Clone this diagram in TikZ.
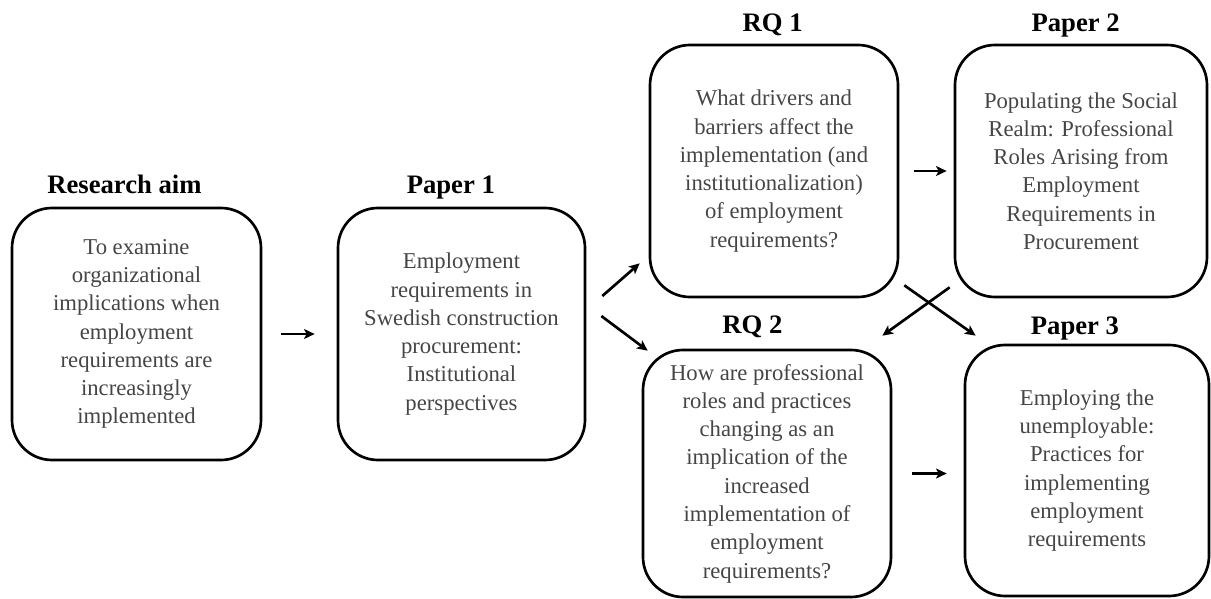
\documentclass[tikz,border=0pt]{standalone}
\usepackage{fontspec}
\setmainfont{Liberation Serif}
\usetikzlibrary{arrows.meta}
\definecolor{txtgray}{gray}{0.27}
\tikzset{
  box/.style={draw, line width=2pt, rounded corners=30pt, align=center, inner sep=0pt,
    text=txtgray, font=\fontsize{17}{21.2}\selectfont},
  lab/.style={anchor=base, font=\fontsize{20}{24}\selectfont\bfseries},
  arr/.style={-{Stealth[length=8pt,width=7.5pt,inset=2pt]}, line width=2pt}
}
\begin{document}
\begin{tikzpicture}[x=0.75pt,y=-0.75pt]
  \useasboundingbox (0,0) rectangle (1211,599);
  % boxes
  \node[box, minimum width=186.75pt, minimum height=189pt] (aim) at (136.5,334)
    {To examine\\organizational\\implications when\\employment\\requirements are\\increasingly\\implemented};
  \node[box, minimum width=185.25pt, minimum height=189pt] (p1) at (461.5,334)
    {Employment\\requirements in\\Swedish construction\\procurement:\\Institutional\\perspectives};
  \node[box, minimum width=186pt, minimum height=189pt] (rq1) at (774,171)
    {What drivers and\\barriers affect the\\implementation (and\\institutionalization)\\of employment\\requirements?};
  \node[box, minimum width=189pt, minimum height=189pt] (p2) at (1081,171)
    {Populating the Social\\Realm: Professional\\Roles Arising from\\Employment\\Requirements in\\Procurement};
  \node[box, minimum width=186pt, minimum height=185.25pt] (rq2) at (767,473.5)
    {How are professional\\roles and practices\\changing as an\\implication of the\\increased\\implementation of\\employment\\requirements?};
  \node[box, minimum width=183pt, minimum height=188.25pt] (p3) at (1087,470.5)
    {Employing the\\unemployable:\\Practices for\\implementing\\employment\\requirements};
  % headings
  \node[lab] (aimlab) at ([xshift=-9pt,yshift=10pt]aim.north) {Research aim};
  \node[lab] (p1lab) at ([xshift=-8pt,yshift=10pt]p1.north) {Paper 1};
  \node[lab] (rq1lab) at ([xshift=-1pt,yshift=9pt]rq1.north) {RQ 1};
  \node[lab] (p2lab) at ([xshift=-4pt,yshift=9pt]p2.north) {Paper 2};
  \node[lab] (rq2lab) at ([xshift=-11pt,yshift=11pt]rq2.north) {RQ 2};
  \node[lab] (p3lab) at ([xshift=-9pt,yshift=7pt]p3.north) {Paper 3};
  % arrows
  \draw[arr] ([xshift=14pt]aim.east) -- ([xshift=-16.5pt]p1.west);
  \draw[arr] ([xshift=12pt,yshift=28.5pt]p1.east) -- ([xshift=-6.75pt,yshift=26.25pt]rq1.south west);
  \draw[arr] ([xshift=11.25pt,yshift=13.5pt]p1.east) -- ([xshift=4.5pt,yshift=-1.5pt]rq2.north west);
  \draw[arr] ([xshift=11.25pt]rq1.east) -- ([xshift=-5.25pt]p2.west);
  \draw[arr] ([xshift=3.75pt,yshift=9.75pt]rq1.south east) -- ([xshift=9pt,yshift=6pt]p3.north west);
  \draw[arr] ([xshift=-3pt,yshift=8.25pt]p2.south west) -- ([xshift=-7.5pt,yshift=9.75pt]rq2.north east);
  \draw[arr] ([xshift=15pt]rq2.east) -- ([xshift=-12.75pt]p3.west |- rq2.east);
\end{tikzpicture}
\end{document}
